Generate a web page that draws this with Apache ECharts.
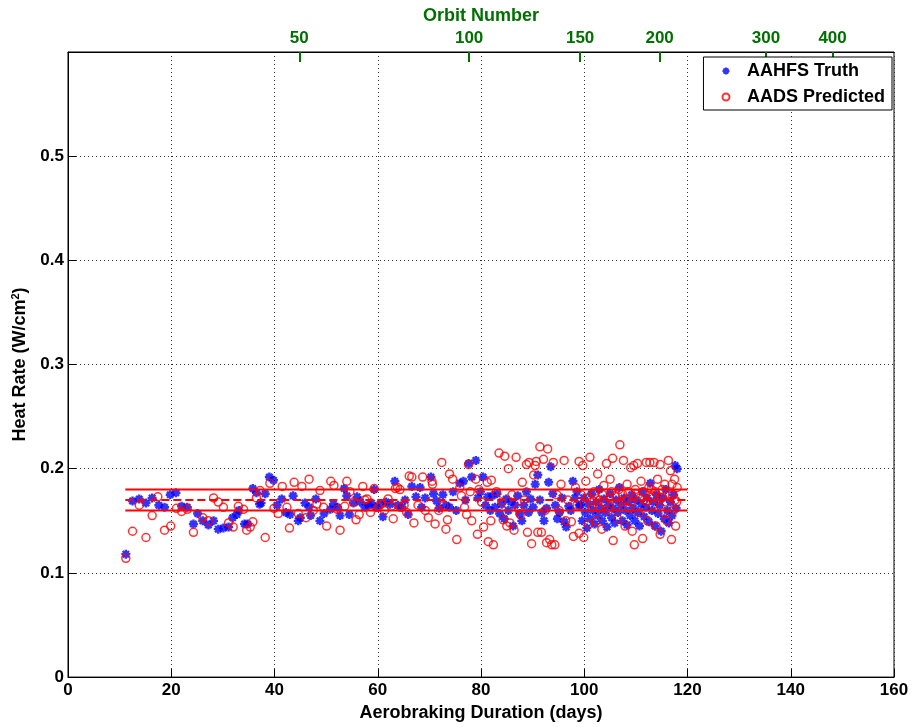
<!DOCTYPE html>
<html>
<head>
<meta charset="utf-8">
<script src="https://cdn.jsdelivr.net/npm/echarts@6/dist/echarts.min.js"></script>
<style>html,body{margin:0;padding:0;background:#fff;}#c{width:913px;height:727px;}</style>
</head>
<body>
<div id="c"></div>
<script>
// AAHFS Truth: [day, heat rate W/cm^2]
const truthPoints = [
[11.2,.118],[12.5,.169],[13.8,.171],[15.1,.167],[16.3,.172],[17.6,.165],[18.7,.163],[19.8,.175],[20.9,.177],[22.0,.164],
[23.1,.163],[24.3,.147],[25.1,.157],[26.1,.150],[27.2,.146],[28.2,.150],[29.1,.142],[30.1,.143],[31.1,.144],[31.9,.153],
[32.7,.156],[33.1,.160],[34.2,.147],[34.8,.147],[35.8,.181],[36.5,.177],[37.1,.166],[37.4,.167],[38.2,.176],[39.0,.192],
[39.8,.189],[40.5,.165],[41.4,.171],[42.2,.158],[43.0,.156],[43.6,.174],[44.6,.150],[45.0,.153],[45.9,.167],[46.7,.163],
[47.0,.155],[48.0,.171],[48.8,.150],[49.6,.157],[50.8,.161],[51.4,.166],[52.2,.163],[52.7,.155],[53.5,.181],[54.0,.174],
[54.5,.156],[55.3,.167],[56.0,.173],[56.6,.168],[57.5,.163],[58.2,.165],[58.8,.167],[59.3,.180],[59.7,.163],[60.5,.166],
[61.0,.154],[61.6,.168],[62.4,.166],[63.3,.188],[63.9,.165],[64.7,.163],[65.3,.170],[65.9,.156],[66.6,.183],[67.4,.173],
[68.2,.182],[68.5,.163],[69.2,.172],[70.3,.192],[70.8,.176],[71.4,.169],[71.9,.162],[72.6,.175],[73.2,.165],[73.9,.163],
[74.6,.178],[75.2,.160],[75.9,.186],[76.6,.188],[77.0,.170],[77.6,.205],[78.2,.192],[79.0,.208],[79.4,.172],[79.9,.178],
[80.4,.192],[80.9,.165],[81.3,.173],[81.8,.160],[82.2,.174],[82.7,.163],[83.1,.176],[83.6,.157],[84.0,.166],[84.5,.152],
[84.9,.171],[85.3,.160],[85.8,.168],[86.2,.145],[86.6,.165],[87.1,.174],[87.5,.157],[87.9,.150],[88.3,.165],[88.8,.178],
[89.2,.158],[89.6,.171],[90.1,.163],[90.5,.185],[91.0,.194],[91.4,.170],[91.8,.158],[92.2,.150],[92.7,.162],[93.1,.187],
[93.5,.202],[93.9,.176],[94.4,.165],[94.8,.152],[95.2,.158],[95.7,.172],[96.1,.149],[96.5,.144],[97.0,.164],[97.4,.160],
[97.8,.188],[98.2,.172],[98.6,.178],[99.0,.165],[99.3,.165],[99.6,.150],[99.9,.172],[100.2,.158],[100.5,.143],[100.8,.166],
[101.1,.152],[101.4,.176],[101.7,.160],[102.0,.147],[102.3,.168],[102.6,.155],[102.9,.180],[103.2,.162],[103.5,.150],[103.8,.171],
[104.1,.158],[104.4,.144],[104.7,.165],[105.0,.176],[105.3,.153],[105.6,.162],[105.9,.148],[106.2,.170],[106.5,.158],[106.8,.182],
[107.1,.165],[107.4,.150],[107.7,.172],[108.0,.160],[108.3,.146],[108.6,.168],[108.9,.155],[109.2,.175],[109.5,.162],[109.8,.150],
[110.1,.170],[110.4,.158],[110.7,.145],[111.0,.166],[111.3,.178],[111.6,.154],[111.9,.163],[112.2,.172],[112.5,.149],[112.8,.186],
[113.1,.160],[113.4,.168],[113.7,.145],[114.0,.175],[114.3,.157],[114.6,.165],[114.9,.140],[115.2,.172],[115.5,.152],[115.8,.180],
[116.1,.160],[116.4,.148],[116.7,.168],[117.0,.155],[117.3,.175],[117.6,.203],[117.8,.162],[118.0,.200]
];
// AADS Predicted: [day, heat rate W/cm^2]
const predictedPoints = [
[11.2,.114],[12.5,.140],[13.8,.165],[15.1,.134],[16.3,.155],[17.4,.173],[18.7,.141],[19.9,.145],[21.0,.162],[22.0,.159],
[23.1,.161],[24.3,.139],[26.1,.153],[27.2,.150],[28.2,.172],[29.1,.168],[30.1,.163],[31.1,.148],[32.0,.144],[33.0,.164],
[34.0,.161],[34.6,.141],[35.3,.144],[35.8,.149],[36.5,.172],[37.2,.179],[38.2,.134],[39.1,.186],[39.9,.162],[40.7,.157],
[41.5,.183],[42.4,.163],[42.9,.143],[43.8,.187],[44.6,.157],[45.3,.183],[46.1,.153],[46.7,.190],[47.5,.160],[48.2,.166],
[48.8,.179],[49.5,.163],[50.1,.145],[50.9,.188],[51.5,.184],[52.2,.161],[52.7,.141],[53.6,.164],[54.0,.188],[54.6,.178],
[55.3,.168],[55.8,.151],[56.4,.156],[57.1,.183],[57.5,.170],[57.9,.171],[58.6,.158],[59.3,.181],[60.1,.163],[60.6,.166],
[61.3,.160],[62.0,.171],[62.6,.164],[63.0,.152],[63.4,.181],[63.8,.182],[64.3,.180],[64.4,.163],[65.1,.165],[65.6,.158],
[66.1,.193],[66.6,.192],[67.0,.148],[67.8,.165],[68.7,.192],[69.2,.160],[69.8,.153],[70.5,.188],[70.6,.185],[71.1,.147],
[71.8,.160],[72.4,.206],[72.8,.165],[73.2,.142],[73.5,.151],[73.9,.195],[74.5,.190],[75.3,.132],[75.9,.182],[76.2,.174],
[76.8,.163],[77.2,.156],[77.6,.204],[77.9,.178],[78.2,.150],[79.0,.190],[79.3,.137],[79.6,.180],[80.1,.168],[80.5,.144],
[81.2,.187],[81.4,.130],[81.9,.150],[82.0,.189],[82.4,.127],[83.0,.178],[83.5,.215],[84.0,.168],[84.3,.151],[84.6,.212],
[85.0,.145],[85.3,.200],[85.6,.148],[86.0,.175],[86.4,.141],[86.8,.211],[87.2,.162],[87.6,.156],[88.0,.187],[88.4,.170],
[88.8,.204],[89.0,.139],[89.3,.206],[89.8,.128],[90.2,.194],[90.5,.203],[90.7,.207],[91.0,.139],[91.4,.221],[91.7,.139],
[92.1,.209],[92.4,.160],[92.7,.129],[92.9,.219],[93.3,.132],[93.7,.127],[94.0,.206],[94.3,.127],[94.7,.175],[95.1,.160],
[95.5,.185],[96.1,.208],[96.4,.150],[96.8,.170],[97.5,.149],[97.9,.135],[98.3,.182],[98.6,.165],[99.0,.207],[99.0,.138],
[99.4,.175],[99.7,.203],[99.9,.134],[100.3,.188],[100.5,.172],[100.8,.147],[101.1,.211],[101.3,.168],[101.5,.163],[101.9,.178],
[102.0,.176],[102.3,.150],[102.6,.195],[102.8,.162],[103.0,.170],[103.4,.142],[103.6,.175],[103.8,.184],[104.0,.168],[104.3,.205],
[104.6,.160],[104.9,.172],[105.0,.190],[105.3,.178],[105.5,.210],[105.6,.131],[106.0,.174],[106.2,.165],[106.4,.152],[106.7,.180],
[106.9,.223],[107.2,.168],[107.4,.176],[107.6,.208],[107.9,.145],[108.0,.170],[108.3,.185],[108.5,.178],[108.7,.162],[109.0,.201],
[109.1,.168],[109.3,.140],[109.6,.203],[109.7,.127],[109.9,.180],[110.0,.176],[110.3,.205],[110.6,.158],[110.8,.172],[111.0,.188],
[111.3,.133],[111.4,.178],[111.6,.170],[112.0,.206],[112.1,.168],[112.3,.150],[112.5,.182],[112.7,.206],[113.0,.180],[113.2,.174],
[113.3,.165],[113.5,.206],[113.7,.178],[113.9,.145],[114.2,.190],[114.4,.170],[114.7,.137],[114.7,.204],[115.0,.172],[115.1,.180],
[115.3,.158],[115.6,.185],[115.8,.168],[116.0,.150],[116.3,.208],[116.5,.176],[116.7,.198],[116.9,.132],[117.0,.185],[117.1,.175],
[117.3,.160],[117.5,.190],[117.6,.170],[117.7,.145],[117.9,.168],[118.0,.182]
];
// Reference band levels (W/cm^2) and the day span they cover
const bandUpper = 0.18;
const bandMean = 0.17;
const bandLower = 0.16;
const bandSpan = [11.1, 120];
// Top axis: orbit numbers and the days where they fall
const orbitTickDays = [44.8, 77.7, 99.2, 114.6, 135.2, 148.1];
const orbitTickLabels = ['50', '100', '150', '200', '300', '400'];

const FONT = "'Liberation Sans', Arial, Helvetica, sans-serif";
const GREEN = '#007000';
const starPath = 'path://M0,-10L0,10M-10,0L10,0M-7,-7L7,7M-7,7L7,-7';

function band(v) { return [[bandSpan[0], v], [bandSpan[1], v]]; }

const chart = echarts.init(document.getElementById('c'), null, { renderer: 'canvas' });
chart.setOption({
  animation: false,
  backgroundColor: '#fff',
  grid: { left: 68, right: 19, top: 52, bottom: 46, show: true, borderColor: '#000', borderWidth: 1, backgroundColor: '#fff' },
  legend: {
    data: ['AAHFS Truth', 'AADS Predicted'],
    orient: 'vertical',
    right: 21, top: 57,
    padding: [5, 7, 4, 18],
    itemWidth: 32, itemHeight: 7, itemGap: 8,
    backgroundColor: '#fff', borderColor: '#000', borderWidth: 1, borderRadius: 0,
    textStyle: { fontFamily: FONT, fontWeight: 'bold', fontSize: 18, color: '#000', lineHeight: 18 }
  },
  xAxis: [{
    type: 'value', min: 0, max: 160, interval: 20, position: 'bottom',
    name: 'Aerobraking Duration (days)', nameLocation: 'middle', nameGap: 26,
    nameTextStyle: { fontFamily: FONT, fontWeight: 'bold', fontSize: 18, color: '#000' },
    axisLine: { show: true, lineStyle: { color: '#000', width: 1 } },
    axisTick: { show: true, inside: true, length: 8, lineStyle: { color: '#000' } },
    axisLabel: { fontFamily: FONT, fontWeight: 'bold', fontSize: 17, color: '#000', margin: 5 },
    splitLine: { show: true, lineStyle: { color: '#333', type: [1, 3], width: 1 } }
  }, {
    type: 'value', min: 0, max: 160, position: 'top',
    name: 'Orbit Number', nameLocation: 'middle', nameGap: 24,
    nameTextStyle: { fontFamily: FONT, fontWeight: 'bold', fontSize: 18, color: GREEN },
    axisLine: { show: true, lineStyle: { color: '#000', width: 1 } },
    axisTick: { show: true, inside: true, length: 10, customValues: orbitTickDays, lineStyle: { color: GREEN, width: 2 } },
    axisLabel: {
      fontFamily: FONT, fontWeight: 'bold', fontSize: 17, color: GREEN, margin: 5,
      customValues: orbitTickDays,
      formatter: function (v) {
        let best = 0;
        for (let i = 1; i < orbitTickDays.length; i++) {
          if (Math.abs(orbitTickDays[i] - v) < Math.abs(orbitTickDays[best] - v)) best = i;
        }
        return orbitTickLabels[best];
      }
    },
    splitLine: { show: false }
  }],
  yAxis: {
    type: 'value', min: 0, max: 0.6, interval: 0.1,
    name: 'Heat Rate (W/cm{sup|2})', nameLocation: 'middle', nameGap: 34, nameRotate: 90,
    nameTextStyle: {
      fontFamily: FONT, fontWeight: 'bold', fontSize: 18, color: '#000',
      rich: { sup: { fontFamily: FONT, fontWeight: 'bold', fontSize: 11, color: '#000', verticalAlign: 'top', padding: [0, 0, 8, 0] } }
    },
    axisLine: { show: true, lineStyle: { color: '#000', width: 1 } },
    axisTick: { show: true, inside: true, length: 8, lineStyle: { color: '#000' } },
    axisLabel: {
      fontFamily: FONT, fontWeight: 'bold', fontSize: 17, color: '#000', margin: 4,
      formatter: function (v) { return Math.abs(v - 0.6) < 1e-9 ? '' : String(Math.round(v * 10) / 10); }
    },
    splitLine: { show: true, lineStyle: { color: '#333', type: [1, 3], width: 1 } }
  },
  series: [{
    name: 'AAHFS Truth', type: 'scatter', xAxisIndex: 0, data: truthPoints,
    symbol: starPath, symbolSize: 9,
    itemStyle: { color: '#0000ff', borderColor: '#0000ff', borderWidth: 2.4 }
  }, {
    name: 'AADS Predicted', type: 'scatter', xAxisIndex: 0, data: predictedPoints,
    symbol: 'circle', symbolSize: 8,
    itemStyle: { color: 'rgba(255,255,255,0)', borderColor: '#ff0000', borderWidth: 1.5 }
  }, {
    name: 'upper', type: 'line', data: band(bandUpper), symbol: 'none', silent: true,
    lineStyle: { color: '#ff0000', width: 2 }, z: 5
  }, {
    name: 'mean', type: 'line', data: band(bandMean), symbol: 'none', silent: true,
    lineStyle: { color: '#ff0000', width: 2, type: [8, 4] }, z: 5
  }, {
    name: 'lower', type: 'line', data: band(bandLower), symbol: 'none', silent: true,
    lineStyle: { color: '#ff0000', width: 2 }, z: 5
  }]
});
</script>
</body>
</html>
